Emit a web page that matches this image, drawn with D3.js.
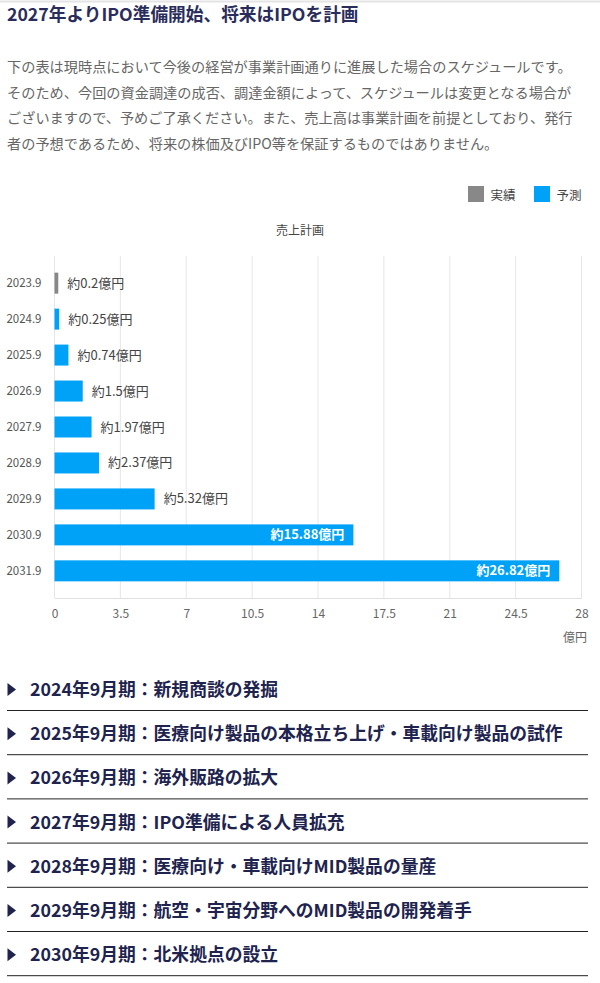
<!DOCTYPE html>
<html><head><meta charset="utf-8">
<script src="https://cdn.jsdelivr.net/npm/d3@7"></script>
<style>
html,body{margin:0;padding:0;background:#fff;}
svg{display:block;font-family:"Noto Sans CJK JP","Noto Sans",sans-serif;}
</style></head>
<body>
<svg id="c" width="600" height="983"></svg>
<script>
const titleText = "2027年よりIPO準備開始、将来はIPOを計画";
const noteLines = [
  "下の表は現時点において今後の経営が事業計画通りに進展した場合のスケジュールです。",
  "そのため、今回の資金調達の成否、調達金額によって、スケジュールは変更となる場合が",
  "ございますので、予めご了承ください。また、売上高は事業計画を前提としており、発行",
  "者の予想であるため、将来の株価及びIPO等を保証するものではありません。"
];
const chartTitle = "売上計画";
const legendLabels = ["実績", "予測"];
const categories = ["2023.9","2024.9","2025.9","2026.9","2027.9","2028.9","2029.9","2030.9","2031.9"];
const values = [0.2, 0.25, 0.74, 1.5, 1.97, 2.37, 5.32, 15.88, 26.82];
const valueLabels = ["約0.2億円","約0.25億円","約0.74億円","約1.5億円","約1.97億円","約2.37億円","約5.32億円","約15.88億円","約26.82億円"];
const seriesType = ["実績","予測","予測","予測","予測","予測","予測","予測","予測"];
const xTicks = [0, 3.5, 7, 10.5, 14, 17.5, 21, 24.5, 28];
const xUnit = "億円";
const milestones = [
  "2024年9月期：新規商談の発掘",
  "2025年9月期：医療向け製品の本格立ち上げ・車載向け製品の試作",
  "2026年9月期：海外販路の拡大",
  "2027年9月期：IPO準備による人員拡充",
  "2028年9月期：医療向け・車載向けMID製品の量産",
  "2029年9月期：航空・宇宙分野へのMID製品の開発着手",
  "2030年9月期：北米拠点の設立"
];

const svg = d3.select("#c");
const color = d3.scaleOrdinal().domain(legendLabels).range(["#888888", "#00a2f8"]);

// top border
svg.append("line").attr("x1",0).attr("x2",600).attr("y1",1.5).attr("y2",1.5).attr("stroke","#e4e4e4").attr("stroke-width",2);

// title
svg.append("text").attr("x",7).attr("y",21).attr("font-size",17.7).attr("font-weight","bold")
  .attr("fill","#2a2d5c").text(titleText);

// note paragraph
svg.append("g").selectAll("text").data(noteLines).join("text")
  .attr("x",7).attr("y",(d,i)=>72 + i*25.6).attr("font-size",14.2).attr("fill","#666")
  .text(d=>d);

// legend
const lg = svg.append("g").attr("font-size",12.5);
const legX = [468, 534];
legendLabels.forEach((l,i)=>{
  lg.append("rect").attr("x",legX[i]).attr("y",186).attr("width",16).attr("height",16).attr("fill",color(l));
  lg.append("text").attr("x",legX[i]+22.5).attr("y",200).attr("fill","#444").text(l);
});

// chart title
svg.append("text").attr("x",300).attr("y",235).attr("text-anchor","middle").attr("font-size",12)
  .attr("fill","#444").text(chartTitle);

// plot
const m = {left:54.5, right:581.5, top:256, bottom:598};
const x = d3.scaleLinear().domain([0,28]).range([m.left, m.right]);
const y = d3.scaleBand().domain(categories).range([m.top, m.bottom]).paddingInner(0.416).paddingOuter(0.463);

// grid
svg.append("g").selectAll("line").data(xTicks).join("line")
  .attr("x1",d=>x(d)).attr("x2",d=>x(d)).attr("y1",m.top).attr("y2",m.bottom)
  .attr("stroke","#e6e6e6");

// x axis
const xAxis = svg.append("g").attr("transform",`translate(0,${m.bottom})`)
  .call(d3.axisBottom(x).tickValues(xTicks).tickFormat(d=>d).tickSize(0).tickPadding(11));
xAxis.select(".domain").attr("stroke","#e0e0e0");
xAxis.selectAll("text").attr("font-size",12).attr("fill","#666").attr("font-family","\"Noto Sans CJK JP\",sans-serif");
svg.append("text").attr("x",587).attr("y",642).attr("text-anchor","end").attr("font-size",12).attr("fill","#666").text(xUnit);

// y axis
const yAxis = svg.append("g").attr("transform",`translate(${m.left},0)`)
  .call(d3.axisLeft(y).tickSize(0).tickPadding(13));
yAxis.select(".domain").remove();
yAxis.selectAll("text").attr("font-size",11.5).attr("fill","#555").attr("font-family","\"Noto Sans CJK JP\",sans-serif");

// bars
const rows = categories.map((c,i)=>({c, v:values[i], lab:valueLabels[i], t:seriesType[i]}));
svg.append("g").selectAll("rect").data(rows).join("rect")
  .attr("x",x(0)).attr("y",d=>y(d.c)).attr("width",d=>x(d.v)-x(0)).attr("height",y.bandwidth())
  .attr("fill",d=>color(d.t));

// labels
svg.append("g").selectAll("text").data(rows).join("text")
  .attr("x",d=> d.v > 10 ? x(d.v)-9 : x(d.v)+9)
  .attr("y",d=>y(d.c)+y.bandwidth()/2+4.5)
  .attr("text-anchor",d=> d.v > 10 ? "end" : "start")
  .attr("font-size",13)
  .attr("font-weight",d=> d.v > 10 ? "bold" : "normal")
  .attr("fill",d=> d.v > 10 ? "#fff" : "#444")
  .text(d=>d.lab);

// milestones
const ms = svg.append("g");
milestones.forEach((t,i)=>{
  const cy = 689.5 + i*44.2;
  ms.append("path").attr("d",`M7.5,${cy-6.5}L16,${cy}L7.5,${cy+6.5}Z`).attr("fill","#20234e");
  ms.append("text").attr("x",30).attr("y",cy+6.5).attr("font-size",17.8).attr("font-weight","bold")
    .attr("fill","#20234e").text(t);
  ms.append("line").attr("x1",7).attr("x2",588).attr("y1",cy+21).attr("y2",cy+21)
    .attr("stroke","#222").attr("stroke-width",1);
});
</script>
</body></html>
